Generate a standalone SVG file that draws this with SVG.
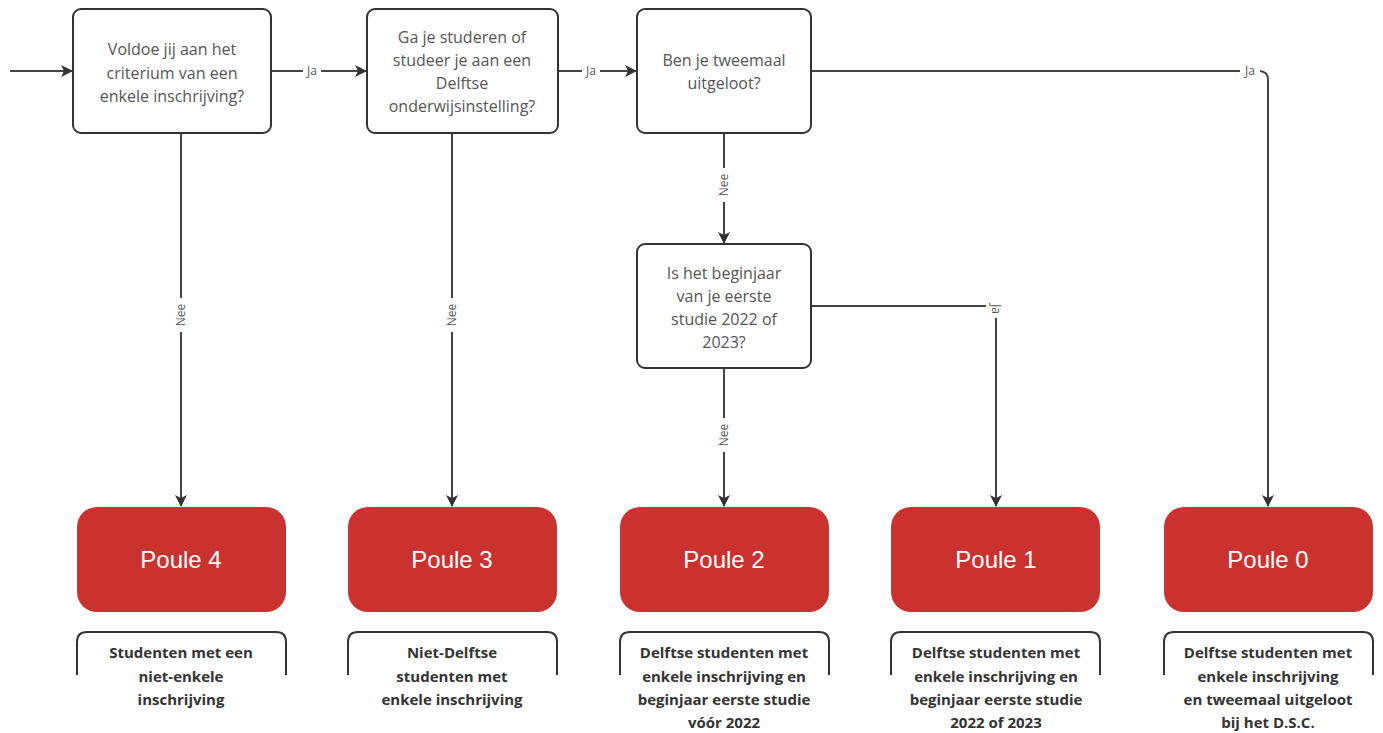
<svg xmlns="http://www.w3.org/2000/svg" width="1383" height="733" viewBox="0 0 1383 733">
<style>
.q{fill:#fff;stroke:#333;stroke-width:2}
.qt{font-family:"Open Sans","Noto Sans",sans-serif;font-size:16px;fill:#555;text-anchor:middle}
.p{fill:#c9322e}
.pt{font-family:"Liberation Sans",Arial,sans-serif;font-size:24px;fill:#fff;text-anchor:middle}
.b{fill:none;stroke:#333;stroke-width:2}
.bt{font-family:"Open Sans","Noto Sans",sans-serif;font-size:15px;font-weight:bold;fill:#333;text-anchor:middle}
.c{fill:none;stroke:#444;stroke-width:2}
.l{font-family:"Open Sans","Noto Sans",sans-serif;font-size:12px;fill:#555;text-anchor:middle}
.lb{fill:#fff}
</style>
<defs>
<marker id="ah" viewBox="0 0 12 12" refX="11" refY="6" markerWidth="12" markerHeight="12" markerUnits="userSpaceOnUse" orient="auto">
<path d="M0,0 L12,6 L0,12 L3,6 Z" fill="#333"/>
</marker>
</defs>
<rect width="1383" height="733" fill="#fff"/>
<g id="connectors">
<path class="c" d="M10,71 H72" marker-end="url(#ah)"/>
<path class="c" d="M271,71 H366" marker-end="url(#ah)"/>
<rect class="lb" x="303" y="63" width="18" height="16"/>
<text class="l" x="312" y="75">Ja</text>
<path class="c" d="M558,71 H636" marker-end="url(#ah)"/>
<rect class="lb" x="582" y="63" width="18" height="16"/>
<text class="l" x="591" y="75">Ja</text>
<path class="c" d="M811,71 H1259 Q1268,71 1268,80 V506" marker-end="url(#ah)"/>
<rect class="lb" x="1240" y="63" width="20" height="16"/>
<text class="l" x="1250" y="75">Ja</text>
<path class="c" d="M724,133 V243" marker-end="url(#ah)"/>
<rect class="lb" x="716" y="168" width="16" height="34"/>
<text class="l" transform="translate(728,185) rotate(-90)">Nee</text>
<path class="c" d="M811,306 H987 Q996,306 996,315 V506" marker-end="url(#ah)"/>
<rect class="lb" x="986" y="298" width="20" height="20"/>
<text class="l" transform="translate(992,309) rotate(90)">Ja</text>
<path class="c" d="M724,368 V506" marker-end="url(#ah)"/>
<rect class="lb" x="716" y="418" width="16" height="34"/>
<text class="l" transform="translate(728,435) rotate(-90)">Nee</text>
<path class="c" d="M181,133 V506" marker-end="url(#ah)"/>
<rect class="lb" x="173" y="298" width="16" height="34"/>
<text class="l" transform="translate(185,315) rotate(-90)">Nee</text>
<path class="c" d="M452,133 V506" marker-end="url(#ah)"/>
<rect class="lb" x="444" y="298" width="16" height="34"/>
<text class="l" transform="translate(456,315) rotate(-90)">Nee</text>
</g>
<g id="q1">
<rect class="q" x="73" y="9" width="198" height="124" rx="8"/>
<text class="qt" x="172" y="55">Voldoe jij aan het</text>
<text class="qt" x="172" y="79">criterium van een</text>
<text class="qt" x="172" y="102">enkele inschrijving?</text>
</g>
<g id="q2">
<rect class="q" x="367" y="9" width="191" height="124" rx="8"/>
<text class="qt" x="462" y="43">Ga je studeren of</text>
<text class="qt" x="462" y="66">studeer je aan een</text>
<text class="qt" x="462" y="89">Delftse</text>
<text class="qt" x="462" y="112">onderwijsinstelling?</text>
</g>
<g id="q3">
<rect class="q" x="637" y="9" width="174" height="124" rx="8"/>
<text class="qt" x="724" y="66">Ben je tweemaal</text>
<text class="qt" x="724" y="89">uitgeloot?</text>
</g>
<g id="q4">
<rect class="q" x="637" y="244" width="174" height="124" rx="8"/>
<text class="qt" x="724" y="279">Is het beginjaar</text>
<text class="qt" x="724" y="302">van je eerste</text>
<text class="qt" x="724" y="325">studie 2022 of</text>
<text class="qt" x="724" y="348">2023?</text>
</g>
<g id="p4">
<rect class="p" x="77" y="507" width="209" height="105" rx="20"/>
<text class="pt" x="181" y="568">Poule 4</text>
</g>
<g id="p3">
<rect class="p" x="348" y="507" width="209" height="105" rx="20"/>
<text class="pt" x="452" y="568">Poule 3</text>
</g>
<g id="p2">
<rect class="p" x="620" y="507" width="209" height="105" rx="20"/>
<text class="pt" x="724" y="568">Poule 2</text>
</g>
<g id="p1">
<rect class="p" x="891" y="507" width="209" height="105" rx="20"/>
<text class="pt" x="996" y="568">Poule 1</text>
</g>
<g id="p0">
<rect class="p" x="1164" y="507" width="209" height="105" rx="20"/>
<text class="pt" x="1268" y="568">Poule 0</text>
</g>
<g id="d4">
<path class="b" d="M77,675 V642 Q77,632 87,632 H276 Q286,632 286,642 V675"/>
<text class="bt" x="181" y="658">Studenten met een</text>
<text class="bt" x="181" y="682">niet-enkele</text>
<text class="bt" x="181" y="705">inschrijving</text>
</g>
<g id="d3">
<path class="b" d="M348,675 V642 Q348,632 358,632 H547 Q557,632 557,642 V675"/>
<text class="bt" x="452" y="658">Niet-Delftse</text>
<text class="bt" x="452" y="682">studenten met</text>
<text class="bt" x="452" y="705">enkele inschrijving</text>
</g>
<g id="d2">
<path class="b" d="M620,675 V642 Q620,632 630,632 H819 Q829,632 829,642 V675"/>
<text class="bt" x="724" y="658">Delftse studenten met</text>
<text class="bt" x="724" y="682">enkele inschrijving en</text>
<text class="bt" x="724" y="705">beginjaar eerste studie</text>
<text class="bt" x="724" y="728">vóór 2022</text>
</g>
<g id="d1">
<path class="b" d="M891,675 V642 Q891,632 901,632 H1090 Q1100,632 1100,642 V675"/>
<text class="bt" x="996" y="658">Delftse studenten met</text>
<text class="bt" x="996" y="682">enkele inschrijving en</text>
<text class="bt" x="996" y="705">beginjaar eerste studie</text>
<text class="bt" x="996" y="728">2022 of 2023</text>
</g>
<g id="d0">
<path class="b" d="M1164,675 V642 Q1164,632 1174,632 H1363 Q1373,632 1373,642 V675"/>
<text class="bt" x="1268" y="658">Delftse studenten met</text>
<text class="bt" x="1268" y="682">enkele inschrijving</text>
<text class="bt" x="1268" y="705">en tweemaal uitgeloot</text>
<text class="bt" x="1268" y="728">bij het D.S.C.</text>
</g>
</svg>
